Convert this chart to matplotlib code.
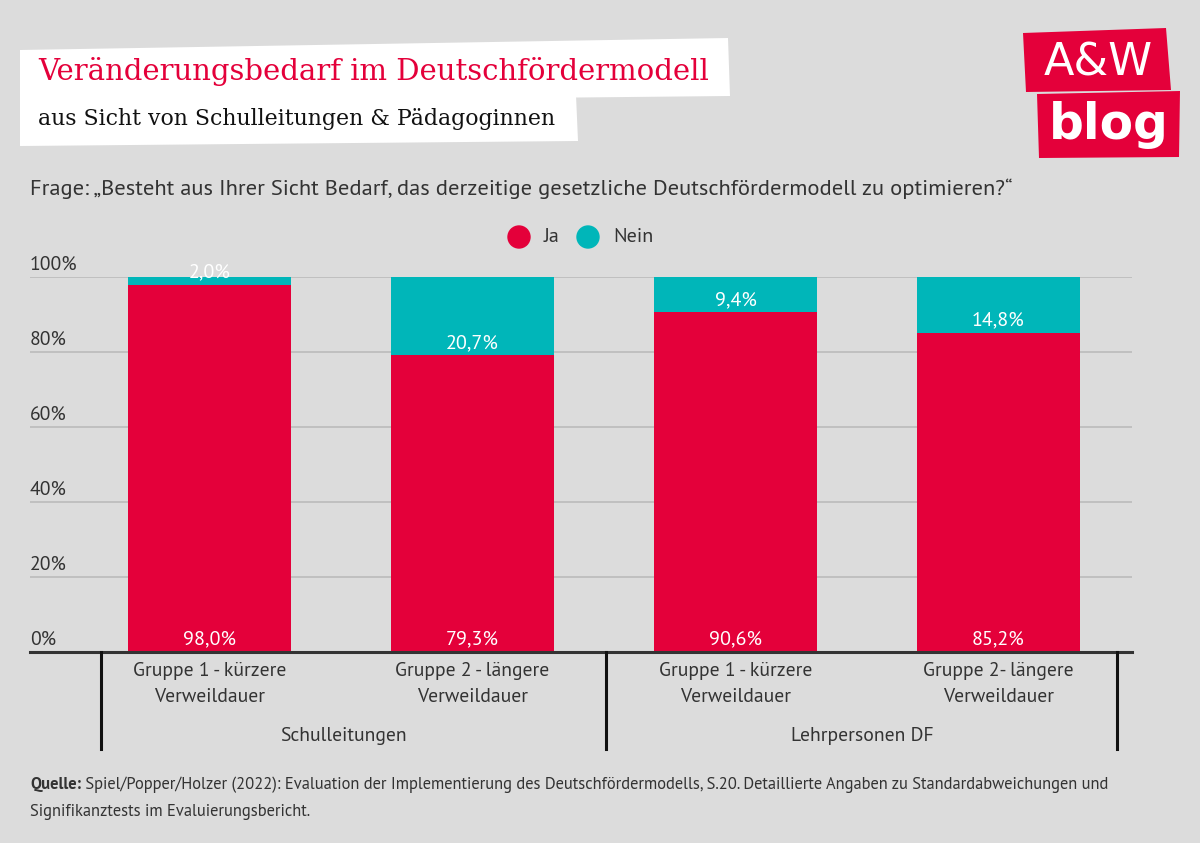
import matplotlib
matplotlib.use("Agg")
import matplotlib.pyplot as plt
from matplotlib import font_manager as fm
from matplotlib.patches import Polygon, Ellipse
import numpy as np

names = {f.name for f in fm.fontManager.ttflist}
BODY = "Noto Sans"
for cand in ["PT Sans", "Fira Sans", "Liberation Sans Narrow", "Roboto Condensed"]:
    if cand in names:
        BODY = cand
        break
SERIF = "DejaVu Serif"

categories = ["Gruppe 1 - kürzere\nVerweildauer", "Gruppe 2 - längere\nVerweildauer",
              "Gruppe 1 - kürzere\nVerweildauer", "Gruppe 2- längere\nVerweildauer"]
groups = ["Schulleitungen", "Lehrpersonen DF"]
ja = [98.0, 79.3, 90.6, 85.2]
nein = [2.0, 20.7, 9.4, 14.8]
yticks = [0, 20, 40, 60, 80, 100]

RED = "#E4003A"
TEAL = "#00B6B9"
BG = "#DCDCDC"
TXT = "#333333"

W, H = 1200, 843
fig = plt.figure(figsize=(W/100, H/100), dpi=100, facecolor=BG)

def fx(px): return px / W
def fy(py): return 1 - py / H

ax = fig.add_axes([fx(30), fy(652), fx(1132) - fx(30), fy(277) - fy(652)])
ax.set_facecolor(BG)
x = np.arange(len(categories))
bw = 0.62
ax.bar(x, ja, width=bw, color=RED, zorder=3)
ax.bar(x, nein, bottom=ja, width=bw, color=TEAL, zorder=3)
ax.set_xlim(-0.683, 3.508)
ax.set_ylim(0, 100)
for s in ax.spines.values():
    s.set_visible(False)
ax.set_xticks([]); ax.set_yticks([])
for t in yticks:
    if t > 0:
        ax.axhline(t, color="#BBBBBB", lw=1.2, zorder=1)
    ax.annotate(f"{t}%", (0, t), xycoords=("axes fraction", "data"),
                xytext=(0, 2), textcoords="offset points", ha="left", va="bottom",
                fontsize=14.2, color=TXT, family=BODY)
ax.axhline(0, color="#333333", lw=2.2, zorder=4, clip_on=False)

for i in range(len(x)):
    ax.annotate(f"{ja[i]:.1f}%".replace(".", ","), (x[i], 0), xytext=(0, 2.5),
                textcoords="offset points", ha="center", va="bottom",
                fontsize=14.5, color="white", family=BODY, zorder=5)
    ax.annotate(f"{nein[i]:.1f}%".replace(".", ","), (x[i], ja[i]), xytext=(0, 2),
                textcoords="offset points", ha="center", va="bottom",
                fontsize=14.5, color="white", family=BODY, zorder=5)

# category labels
for i, c in enumerate(categories):
    xp = ax.transData.transform((x[i], 0))[0]
    fig.text(xp / W, fy(684), c, ha="center", va="center", fontsize=14.1,
             color=TXT, family=BODY, linespacing=1.5)
for gx, g in zip([343, 862], groups):
    fig.text(fx(gx), fy(736), g, ha="center", va="center", fontsize=14.1,
             color=TXT, family=BODY)
for sx in [101, 606, 1117]:
    fig.add_artist(plt.Line2D([fx(sx), fx(sx)], [fy(652), fy(749)], color="#111111", lw=2.2))

# legend
for cx, col, lab in [(519, RED, "Ja"), (588, TEAL, "Nein")]:
    fig.add_artist(Ellipse((fx(cx), fy(237)), width=22 / W, height=22 / H,
                           transform=fig.transFigure, color=col))
    fig.text(fx(cx + 25), fy(237), lab, ha="left", va="center", fontsize=14.5,
             color=TXT, family=BODY)

# question
fig.text(fx(30), fy(189), "Frage: „Besteht aus Ihrer Sicht Bedarf, das derzeitige gesetzliche Deutschfördermodell zu optimieren?“",
         ha="left", va="center", fontsize=16.2, color=TXT, family=BODY)

# title boxes
fig.add_artist(Polygon([(fx(20), fy(103)), (fx(730), fy(96)), (fx(728), fy(38)), (fx(20), fy(50))],
                       closed=True, transform=fig.transFigure, facecolor="white", edgecolor="none"))
fig.add_artist(Polygon([(fx(20), fy(146)), (fx(578), fy(141)), (fx(576), fy(95)), (fx(20), fy(100))],
                       closed=True, transform=fig.transFigure, facecolor="white", edgecolor="none"))
fig.text(fx(38), fy(72), "Veränderungsbedarf im Deutschfördermodell", ha="left", va="center",
         fontsize=21, color=RED, family=SERIF)
fig.text(fx(38), fy(119), "aus Sicht von Schulleitungen & Pädagoginnen", ha="left", va="center",
         fontsize=15.8, color="#111111", family=SERIF)

# logo
fig.add_artist(Polygon([(fx(1023), fy(33)), (fx(1166), fy(28)), (fx(1171), fy(90)), (fx(1026), fy(92))],
                       closed=True, transform=fig.transFigure, facecolor=RED, edgecolor="none"))
fig.add_artist(Polygon([(fx(1037), fy(94)), (fx(1180), fy(91)), (fx(1179), fy(157)), (fx(1039), fy(158))],
                       closed=True, transform=fig.transFigure, facecolor=RED, edgecolor="none"))
fig.text(fx(1098), fy(63), "A&W", ha="center", va="center", fontsize=32, color="white",
         family="DejaVu Sans")
fig.text(fx(1109), fy(125), "blog", ha="center", va="center", fontsize=35, color="white",
         family="DejaVu Sans", fontweight="bold")

# source
src_rest = " Spiel/Popper/Holzer (2022): Evaluation der Implementierung des Deutschfördermodells, S.20. Detaillierte Angaben zu Standardabweichungen und"
fs = 12.0
renderer = fig.canvas.get_renderer()
t1 = fig.text(fx(30), fy(785), "Quelle:", ha="left", va="center", fontsize=fs, color=TXT,
              family=BODY, fontweight="bold")
t2 = fig.text(fx(30), fy(785), src_rest, ha="left", va="center", fontsize=fs, color=TXT, family=BODY)
w_total = t1.get_window_extent(renderer).width + t2.get_window_extent(renderer).width
fs = fs * (1087 / w_total)
t1.set_fontsize(fs); t2.set_fontsize(fs)
w1 = t1.get_window_extent(renderer).width
t2.set_x(fx(30 + w1))
fig.text(fx(30), fy(812), "Signifikanztests im Evaluierungsbericht.", ha="left", va="center",
         fontsize=fs, color=TXT, family=BODY)

fig.savefig("out.png", dpi=100, facecolor=BG)
